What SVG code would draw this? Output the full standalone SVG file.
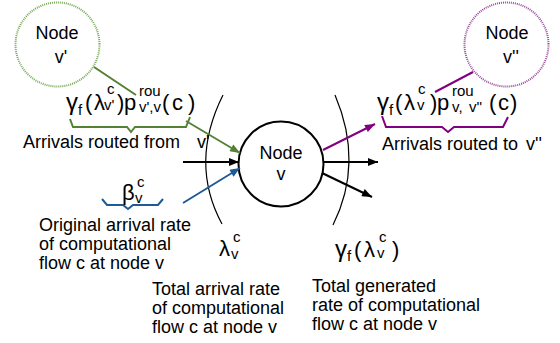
<svg xmlns="http://www.w3.org/2000/svg" width="560" height="343" viewBox="0 0 560 343">
<style>
text{font-family:"Liberation Sans",Arial,sans-serif;fill:#000}
.t{font-size:18px}
.f{font-size:22px}
.y{font-size:24px}
.s{font-size:15px}
.n{font-size:18px;text-anchor:middle}
.arc{fill:none;stroke:#000;stroke-width:1.2}
.k{stroke:#000;stroke-width:2;fill:none}
.g{stroke:#548235;stroke-width:2;fill:none}
.p{stroke:#800080;stroke-width:2;fill:none}
.b{stroke:#1f5a96;stroke-width:2;fill:none}
</style>
<defs>
<marker id="ak" viewBox="0 0 10 8" refX="10" refY="4" markerWidth="11" markerHeight="8" markerUnits="userSpaceOnUse" orient="auto"><path d="M0,0L10,4L0,8Z" fill="#000"/></marker>
<marker id="ag" viewBox="0 0 10 8" refX="10" refY="4" markerWidth="11" markerHeight="8" markerUnits="userSpaceOnUse" orient="auto"><path d="M0,0L10,4L0,8Z" fill="#548235"/></marker>
<marker id="ap" viewBox="0 0 10 8" refX="10" refY="4" markerWidth="11" markerHeight="8" markerUnits="userSpaceOnUse" orient="auto"><path d="M0,0L10,4L0,8Z" fill="#800080"/></marker>
<marker id="ab" viewBox="0 0 10 8" refX="10" refY="4" markerWidth="11" markerHeight="8" markerUnits="userSpaceOnUse" orient="auto"><path d="M0,0L10,4L0,8Z" fill="#1f5a96"/></marker>
</defs>

<g id="node-v1">
<circle cx="57.5" cy="44.5" r="42" fill="#fff" stroke="#76a855" stroke-width="2" stroke-dasharray="1 1"/>
<text class="n" x="57" y="39">Node</text>
<text class="n" x="61" y="63">v'</text>
</g>
<g id="node-v2">
<circle cx="506.5" cy="44.5" r="42" fill="#fff" stroke="#9a4a9a" stroke-width="2" stroke-dasharray="1 1"/>
<text class="n" x="507" y="39">Node</text>
<text class="n" x="511" y="63">v''</text>
</g>
<g id="node-v">
<circle cx="281" cy="164" r="42.5" fill="#fff" stroke="#000" stroke-width="2"/>
<text class="n" x="281" y="159">Node</text>
<text class="n" x="281" y="180">v</text>
</g>

<g id="connectors">
<path class="arc" d="M223,95 Q189,163 222,224"/>
<path class="arc" d="M335,95 Q364,163 333,225"/>
<line class="g" x1="94" y1="67" x2="136" y2="95"/>
<line class="p" x1="473" y1="72" x2="435" y2="92"/>
<line class="g" x1="186" y1="121" x2="240" y2="153" marker-end="url(#ag)"/>
<line class="k" x1="183" y1="162" x2="239" y2="162" marker-end="url(#ak)"/>
<line class="b" x1="183" y1="203" x2="240" y2="168" marker-end="url(#ab)"/>
<line class="p" x1="323" y1="150" x2="375" y2="124" marker-end="url(#ap)"/>
<line class="k" x1="324" y1="162" x2="378" y2="162" marker-end="url(#ak)"/>
<line class="k" x1="322" y1="173" x2="372" y2="197" marker-end="url(#ak)"/>
<path class="g" d="M70,119 L73,127 L127,127 L131,132 L135,127 L186,127 L190,117"/>
<path class="p" d="M382,116 L386,127 L442,127 L448,132 L454,127 L503,127 L508,117"/>
<path class="b" d="M102,199 L107,205 L123,205 L128,209 L133,205 L158,205 L163,199"/>
</g>

<g id="labels">
<text class="y" x="66" y="110">γ</text>
<text class="s" x="78" y="115">f</text>
<text class="f" x="85" y="110">(</text>
<text class="f" x="94" y="110">λ</text>
<text class="s" x="107" y="94">c</text>
<text class="s" x="104" y="110">v'</text>
<text class="f" x="117" y="110">)</text>
<text class="f" x="124" y="110">p</text>
<text class="s" x="139" y="96">rou</text>
<text class="s" x="139" y="111.5">v',v</text>
<text class="f" x="162" y="110">(</text>
<text class="f" x="172" y="110">c</text>
<text class="f" x="188" y="110">)</text>
<text class="t" x="23" y="148">Arrivals routed from <tspan x="197">v'</tspan></text>

<text class="y" x="377" y="110">γ</text>
<text class="s" x="389" y="115">f</text>
<text class="f" x="395" y="110">(</text>
<text class="f" x="404" y="110">λ</text>
<text class="s" x="418" y="94">c</text>
<text class="s" x="417" y="110">v</text>
<text class="f" x="430" y="110">)</text>
<text class="f" x="437" y="110">p</text>
<text class="s" x="452" y="96">rou</text>
<text class="s" x="452" y="111.5">v,<tspan x="469">v''</tspan></text>
<text class="f" x="489" y="110">(</text>
<text class="f" x="498" y="110">c</text>
<text class="f" x="510" y="110">)</text>
<text class="t" x="382" y="150">Arrivals routed to <tspan x="526">v''</tspan></text>

<text class="f" x="122" y="200">β</text>
<text class="s" x="137" y="187">c</text>
<text class="s" x="135" y="203">v</text>
<text class="t" x="39" y="231">Original arrival rate<tspan x="39" y="250">of computational</tspan><tspan x="39" y="269">flow c at node v</tspan></text>

<text class="f" x="219" y="256">λ</text>
<text class="s" x="233" y="242">c</text>
<text class="s" x="231" y="259">v</text>
<text class="t" x="152" y="295">Total arrival rate<tspan x="152" y="314">of computational</tspan><tspan x="152" y="333">flow c at node v</tspan></text>

<text class="y" x="335" y="257">γ</text>
<text class="s" x="347" y="261">f</text>
<text class="f" x="354" y="257">(</text>
<text class="f" x="364" y="257">λ</text>
<text class="s" x="379" y="242">c</text>
<text class="s" x="377" y="258">v</text>
<text class="f" x="392" y="257">)</text>
<text class="t" x="312" y="292">Total generated<tspan x="312" y="311">rate of computational</tspan><tspan x="312" y="330">flow c at node v</tspan></text>
</g>
</svg>
